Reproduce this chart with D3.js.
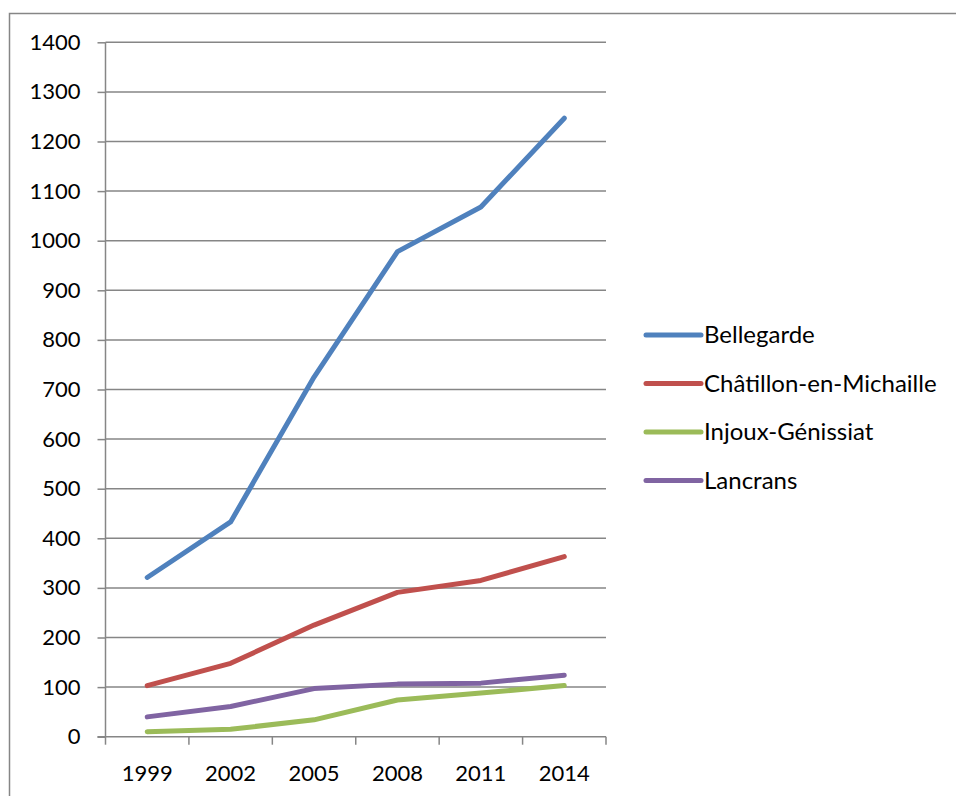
<!DOCTYPE html>
<html>
<head>
<meta charset="utf-8">
<script src="https://cdn.jsdelivr.net/npm/d3@7"></script>
<style>
  html, body { margin: 0; padding: 0; background: #fff; }
  svg { display: block; }
  text { font-family: Lato, "Open Sans", sans-serif; fill: #000; }
</style>
</head>
<body>
<svg id="chart" width="956" height="796"></svg>
<script>
// Categories (years) and series values
const years = ["1999", "2002", "2005", "2008", "2011", "2014"];
const seriesNames = ["Bellegarde", "Châtillon-en-Michaille", "Injoux-Génissiat", "Lancrans"];
const bellegarde = [321, 433, 725, 978, 1068, 1247];
const chatillon = [103, 148, 225, 291, 315, 363];
const injoux = [10, 15, 34, 74, 88, 103];
const lancrans = [40, 61, 97, 106, 108, 124];
const yTicks = [0, 100, 200, 300, 400, 500, 600, 700, 800, 900, 1000, 1100, 1200, 1300, 1400];
const colors = ["#4F81BD", "#C0504D", "#9BBB59", "#8064A2"];

const seriesValues = [bellegarde, chatillon, injoux, lancrans];
const series = seriesNames.map((name, i) => ({ name, values: seriesValues[i], color: colors[i] }));

const svg = d3.select("#chart");

// Outer chart frame (runs off the right and bottom edges)
svg.append("rect")
  .attr("x", 9.5).attr("y", 13.5)
  .attr("width", 1000).attr("height", 1000)
  .attr("fill", "none").attr("stroke", "#868686").attr("stroke-width", 1.5);

const plot = { left: 105.5, right: 606, top: 42.3, bottom: 736.7 };

const x = d3.scaleBand().domain(years).range([plot.left, plot.right]).padding(0);
const y = d3.scaleLinear().domain([0, 1400]).range([plot.bottom, plot.top]);

// Horizontal gridlines
svg.append("g")
  .selectAll("line")
  .data(yTicks.filter(d => d > 0))
  .join("line")
  .attr("x1", plot.left).attr("x2", plot.right)
  .attr("y1", d => y(d)).attr("y2", d => y(d))
  .attr("stroke", "#868686").attr("stroke-width", 1.5);

// Y axis
const yAxis = svg.append("g")
  .attr("transform", `translate(${plot.left},0)`)
  .call(d3.axisLeft(y).tickValues(yTicks).tickSize(8).tickPadding(17).tickFormat(d3.format("d")));
yAxis.select(".domain").attr("stroke", "#868686").attr("stroke-width", 1.5).attr("d", `M0,${plot.top}V${plot.bottom}`);
yAxis.selectAll(".tick line").attr("stroke", "#868686").attr("stroke-width", 1.5);
yAxis.selectAll(".tick text").attr("font-size", 22).attr("font-family", "Lato, 'Open Sans', sans-serif").attr("fill", "#000");

// X axis with tick marks at category boundaries
const xAxisG = svg.append("g").attr("transform", `translate(0,${plot.bottom})`);
xAxisG.append("line")
  .attr("x1", plot.left - 8).attr("x2", plot.right)
  .attr("stroke", "#868686").attr("stroke-width", 1.5);
const boundaries = years.map(d => x(d)).concat([x(years[years.length - 1]) + x.bandwidth()]);
xAxisG.selectAll("line.tk")
  .data(boundaries)
  .join("line").attr("class", "tk")
  .attr("x1", d => d).attr("x2", d => d)
  .attr("y1", 0).attr("y2", 8)
  .attr("stroke", "#868686").attr("stroke-width", 1.5);
xAxisG.selectAll("text")
  .data(years)
  .join("text")
  .attr("x", d => x(d) + x.bandwidth() / 2)
  .attr("y", 44)
  .attr("text-anchor", "middle")
  .attr("font-size", 22)
  .text(d => d);

// Series lines
const line = d3.line()
  .x((d, i) => x(years[i]) + x.bandwidth() / 2)
  .y(d => y(d));

svg.append("g")
  .selectAll("path")
  .data(series)
  .join("path")
  .attr("d", d => line(d.values))
  .attr("fill", "none")
  .attr("stroke", d => d.color)
  .attr("stroke-width", 5)
  .attr("stroke-linecap", "round")
  .attr("stroke-linejoin", "round");

// Legend
const legend = svg.append("g");
const rows = legend.selectAll("g")
  .data(series)
  .join("g")
  .attr("transform", (d, i) => `translate(646,${335 + i * 48.5})`);
rows.append("line")
  .attr("x1", 0).attr("x2", 55)
  .attr("stroke", d => d.color).attr("stroke-width", 5)
  .attr("stroke-linecap", "round");
rows.append("text")
  .attr("x", 58).attr("y", 8)
  .attr("font-size", 24)
  .text(d => d.name);
</script>
</body>
</html>
